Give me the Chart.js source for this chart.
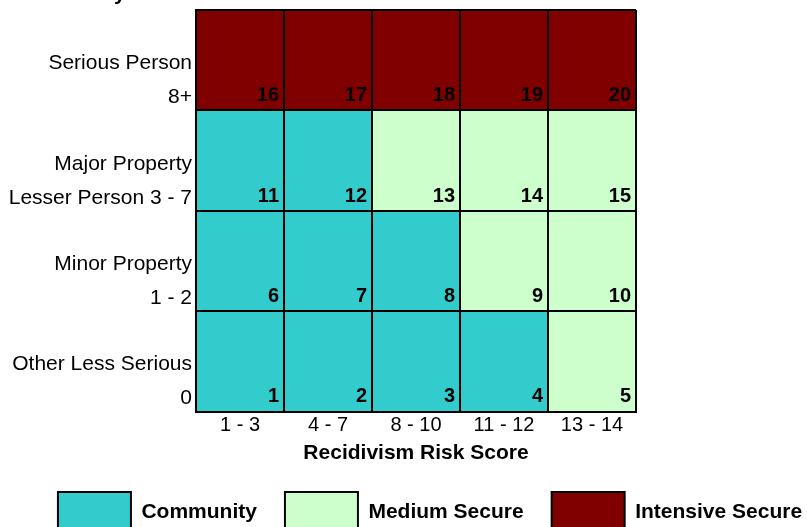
<!DOCTYPE html>
<html>
<head>
<meta charset="utf-8">
<script src="https://cdn.jsdelivr.net/npm/chart.js@4.4.1/dist/chart.umd.min.js"></script>
<style>
    html, body { margin: 0; padding: 0; background: #fff; overflow: hidden; }
    #wrap { position: relative; width: 807px; height: 560px; }
</style>
</head>
<body>
<div id="wrap"><canvas id="chart"></canvas></div>
<script>
// Recidivism risk bands (columns)
const riskLabels = ['1 - 3', '4 - 7', '8 - 10', '11 - 12', '13 - 14'];

// Offense severity bands (rows), bottom row first
const severityLabels = [
    ['Other Less Serious', '0'],
    ['Minor Property', '1 - 2'],
    ['Major Property', 'Lesser Person 3 - 7'],
    ['Serious Person', '8+']
];

const placementNames = ['Community', 'Medium Secure', 'Intensive Secure'];
const placementColors = ['#33CCCC', '#CCFFCC', '#800000'];

// Placement index of each cell, rows bottom to top
const placementGrid = [
    [0, 0, 0, 0, 1],
    [0, 0, 0, 1, 1],
    [0, 0, 1, 1, 1],
    [2, 2, 2, 2, 2]
];

// Cell numbers, rows bottom to top
const cellNumbers = [
    [1, 2, 3, 4, 5],
    [6, 7, 8, 9, 10],
    [11, 12, 13, 14, 15],
    [16, 17, 18, 19, 20]
];

// Every cell is one row tall
const cellUnits = [1, 1, 1, 1, 1];

const xTitle = 'Recidivism Risk Score';
const yTitle = 'Offense Severity Score';

const FONT = '"Liberation Sans", Arial, sans-serif';

/**
 * Writes the cell number in the bottom right corner of every cell
 */
const cellNumberPlugin = {
    id: 'cellNumbers',
    afterDatasetsDraw(chart) {
        const ctx = chart.ctx;
        ctx.save();
        ctx.font = 'bold 20px ' + FONT;
        ctx.fillStyle = '#000';
        ctx.textAlign = 'right';
        ctx.textBaseline = 'alphabetic';
        chart.data.datasets.forEach((ds, r) => {
            chart.getDatasetMeta(r).data.forEach((bar, c) => {
                const right = bar.x + bar.width / 2;
                const bottom = Math.max(bar.y, bar.base);
                ctx.fillText(String(cellNumbers[r][c]), right - 5, bottom - 9);
            });
        });
        ctx.restore();
    }
};

/**
 * Severity title, sits above the plot and is cut by the page edge
 */
const severityTitlePlugin = {
    id: 'severityTitle',
    afterDraw(chart) {
        const ctx = chart.ctx;
        ctx.save();
        ctx.font = 'bold 21px ' + FONT;
        ctx.fillStyle = '#000';
        ctx.textAlign = 'right';
        ctx.textBaseline = 'alphabetic';
        ctx.fillText(yTitle, chart.chartArea.left - 6, chart.chartArea.top - 10);
        ctx.restore();
    }
};

const datasets = severityLabels.map((label, r) => ({
    label: label.join(' '),
    data: cellUnits,
    backgroundColor: placementGrid[r].map(p => placementColors[p]),
    borderWidth: 0,
    barPercentage: 1,
    categoryPercentage: 1,
    xAxisID: 'x',
    yAxisID: 'y'
}));

new Chart(document.getElementById('chart').getContext('2d'), {
    type: 'bar',
    data: { labels: riskLabels, datasets },
    plugins: [cellNumberPlugin, severityTitlePlugin],
    options: {
        responsive: true,
        maintainAspectRatio: false,
        animation: false,
        layout: {
            // negative right padding lets the legend row run past the right edge
            padding: { top: 10, bottom: 18, left: 0, right: -53 }
        },
        plugins: {
            tooltip: { enabled: false },
            legend: {
                position: 'bottom',
                onClick: null,
                labels: {
                    boxWidth: 73,
                    boxHeight: 40,
                    padding: 28,
                    color: '#000',
                    font: { family: FONT, size: 21, weight: 'bold' },
                    generateLabels: () => placementNames.map((name, i) => ({
                        text: name,
                        fillStyle: placementColors[i],
                        strokeStyle: '#000',
                        lineWidth: 2,
                        hidden: false,
                        index: i
                    }))
                }
            }
        },
        scales: {
            x: {
                stacked: true,
                offset: true,
                grid: { offset: true, color: '#000', lineWidth: 2, drawTicks: false, z: 1 },
                border: { color: '#000', width: 2, z: 1 },
                ticks: { color: '#000', font: { family: FONT, size: 20 }, padding: 2 },
                title: {
                    display: true,
                    text: xTitle,
                    color: '#000',
                    font: { family: FONT, size: 21, weight: 'bold' },
                    padding: { top: 1, bottom: -2 }
                }
            },
            y: {
                type: 'linear',
                stacked: true,
                min: 0,
                max: 4,
                grid: { color: '#000', lineWidth: 2, drawTicks: false, z: 1 },
                border: { color: '#000', width: 2, z: 1 },
                ticks: { display: false, stepSize: 1 }
            },
            yLabels: {
                type: 'linear',
                position: 'left',
                min: 0,
                max: 4,
                grid: { display: false, drawTicks: false },
                border: { display: false },
                afterBuildTicks: (axis) => {
                    axis.ticks = severityLabels.map((l, i) => ({ value: i + 0.3 }));
                },
                ticks: {
                    autoSkip: false,
                    color: '#000',
                    padding: 4,
                    font: { family: FONT, size: 21, lineHeight: '34px' },
                    callback: (value, index) => severityLabels[index]
                },
                afterFit: (axis) => {
                    axis.width = 196;
                    axis.paddingTop = 0;
                    axis.paddingBottom = 0;
                }
            },
            yRight: {
                type: 'linear',
                position: 'right',
                min: 0,
                max: 4,
                grid: { display: false, drawTicks: false },
                border: { display: false },
                ticks: { display: false },
                afterFit: (axis) => { axis.width = 224; }
            }
        }
    }
});
</script>
</body>
</html>
